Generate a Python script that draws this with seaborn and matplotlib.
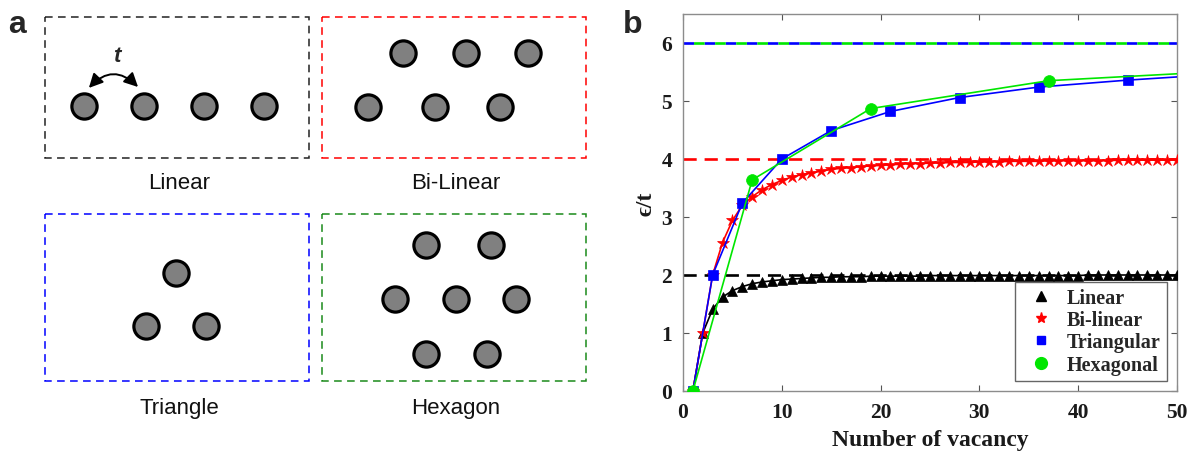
import numpy as np
import seaborn as sns
import matplotlib.pyplot as plt
from matplotlib.patches import Rectangle, FancyArrowPatch
from matplotlib.lines import Line2D

# ---- panel b data ----
vac = np.arange(1, 51)
linear = [0.00, 1.00, 1.41, 1.62, 1.73, 1.80, 1.85, 1.88, 1.90, 1.92,
          1.93, 1.94, 1.95, 1.96, 1.96, 1.97, 1.97, 1.97, 1.98, 1.98,
          1.98, 1.98, 1.98, 1.98, 1.99, 1.99, 1.99, 1.99, 1.99, 1.99,
          1.99, 1.99, 1.99, 1.99, 1.99, 1.99, 1.99, 1.99, 1.99, 1.99,
          2.00, 2.00, 2.00, 2.00, 2.00, 2.00, 2.00, 2.00, 2.00, 2.00]
bilinear = [0.00, 1.00, 2.00, 2.56, 2.94, 3.20, 3.35, 3.47, 3.56, 3.63,
            3.69, 3.73, 3.76, 3.79, 3.82, 3.84, 3.85, 3.87, 3.88, 3.89,
            3.90, 3.91, 3.92, 3.92, 3.93, 3.93, 3.94, 3.94, 3.94, 3.95,
            3.95, 3.95, 3.96, 3.96, 3.96, 3.96, 3.97, 3.97, 3.97, 3.97,
            3.97, 3.97, 3.97, 3.98, 3.98, 3.98, 3.98, 3.98, 3.98, 3.98]
tri_x = [1, 3, 6, 10, 15, 21, 28, 36, 45, 55]
tri_y = [0.00, 2.00, 3.24, 4.00, 4.49, 4.82, 5.06, 5.24, 5.36, 5.47]
hex_x = [1, 7, 19, 37, 61]
hex_y = [0.00, 3.64, 4.87, 5.35, 5.57]
limits = [2, 4, 6, 6]
names = ["Linear", "Bi-linear", "Triangular", "Hexagonal"]
colors = ["black", "#ff0000", "#0000ff", "#00e600"]

# ---- panel a atom sites (pixel layout of the sketch) ----
lin_sites = ([84, 144, 204, 264], [107, 107, 107, 107])
bil_sites = ([403, 466, 528, 368, 435, 500], [54, 54, 54, 108, 108, 108])
trg_sites = ([176, 146, 206], [274, 327, 327])
hxg_sites = ([426, 491, 395, 456, 516, 426, 487], [246, 246, 300, 300, 300, 355, 355])
boxes = [(45, 18, 264, 141, "#222222", "Linear"),
         (322, 18, 264, 141, "#ff0000", "Bi-Linear"),
         (45, 215, 264, 167, "#0000ff", "Triangle"),
         (322, 215, 264, 167, "#1a8a1a", "Hexagon")]

sns.set_theme(style="white")
plt.rcParams["font.family"] = ["Liberation Sans", "DejaVu Sans"]

fig = plt.figure(figsize=(11.93, 4.6), dpi=100)

# ---------------- panel a ----------------
axa = fig.add_axes([0, 0, 600 / 1193, 1])
axa.set_xlim(0, 600)
axa.set_ylim(460, 0)
axa.axis("off")

label_y = [184, 184, 409, 409]
for (x0, y0, w, h, c, lab), ly in zip(boxes, label_y):
    axa.add_patch(Rectangle((x0, y0), w, h, fill=False, ec=c, lw=1.1,
                            ls=(0, (5, 3.5))))
    axa.text(x0 + w / 2 + 2, ly, lab, ha="center", va="center", fontsize=16,
             color="#111111")

for xs, ys in [lin_sites, bil_sites, trg_sites, hxg_sites]:
    sns.scatterplot(x=xs, y=ys, s=330, color="#808080", edgecolor="black",
                    linewidth=2.3, ax=axa, legend=False, zorder=3)

arr = FancyArrowPatch((87, 91), (140, 90), connectionstyle="arc3,rad=-0.55",
                      arrowstyle="<|-|>,head_length=0.7,head_width=0.35",
                      mutation_scale=12, lw=1.4, color="black", zorder=4)
axa.add_patch(arr)
axa.text(117, 56, "t", fontsize=16, fontweight="bold", fontstyle="italic",
         ha="center", va="center")

fig.text(8 / 1193, 1 - 33 / 460, "a", fontsize=23, fontweight="bold",
         va="baseline")
fig.text(623 / 1193, 1 - 33 / 460, "b", fontsize=23, fontweight="bold",
         va="baseline")

# ---------------- panel b ----------------
serif = ["Liberation Serif", "DejaVu Serif"]
ax = fig.add_axes([683 / 1193, 1 - 392 / 460, 494 / 1193, 377 / 460])

for lim, c, dash in zip(limits, colors,
                        [(0, (5, 3)), (0, (5, 3)), (0, (4, 4)), (4, (4, 4))]):
    ax.axhline(lim, xmin=0, xmax=1, color=c, lw=1.9, ls=dash, zorder=2)

sns.lineplot(x=vac, y=linear, color="black", marker="^", markersize=7,
             markeredgecolor="black", markeredgewidth=0.5, lw=1.2,
             ax=ax, legend=False, zorder=3)
sns.lineplot(x=vac, y=bilinear, color="#ff0000", marker="*", markersize=9,
             markeredgecolor="#ff0000", markeredgewidth=0.5, lw=1.2,
             ax=ax, legend=False, zorder=3)
sns.lineplot(x=tri_x, y=tri_y, color="#0000ff", marker="s", markersize=6.5,
             markeredgecolor="#0000ff", markeredgewidth=0.5, lw=1.2,
             ax=ax, legend=False, zorder=4)
sns.lineplot(x=hex_x, y=hex_y, color="#00e600", marker="o", markersize=8.5,
             markeredgecolor="#00e600", markeredgewidth=0.5, lw=1.2,
             ax=ax, legend=False, zorder=5)

ax.set_xlim(0, 50)
ax.set_ylim(0, 6.5)
ax.set_xticks([0, 10, 20, 30, 40, 50])
ax.set_yticks([0, 1, 2, 3, 4, 5, 6])
for sp in ax.spines.values():
    sp.set_color("#8c8c8c")
    sp.set_linewidth(1.0)
ax.tick_params(direction="in", length=4, width=0.8, color="#555555",
               top=True, right=True, bottom=True, left=True,
               labelsize=15.5, pad=8, labelcolor="#1a1a1a")
for t in ax.get_xticklabels() + ax.get_yticklabels():
    t.set_family(serif)
    t.set_fontweight("bold")

ax.set_xlabel("Number of vacancy", fontsize=17, fontweight="bold",
              family=serif, color="#1a1a1a", labelpad=5)
ax.set_ylabel("\u03f5/t", fontsize=17, fontweight="bold", family=serif,
              color="#1a1a1a", labelpad=3)

handles = [Line2D([], [], ls="none", marker=m, color=c, markersize=ms)
           for m, c, ms in zip(["^", "*", "s", "o"], colors, [7, 8, 6, 8.5])]
leg = ax.legend(handles, names, loc="lower right", frameon=True,
                fancybox=False, edgecolor="#666666", framealpha=1,
                prop={"family": serif, "weight": "bold", "size": 14.5},
                handletextpad=0.3, labelspacing=0.12, borderpad=0.3,
                borderaxespad=0.5)
leg.get_frame().set_linewidth(1.0)

plt.savefig("out.png", dpi=100)
